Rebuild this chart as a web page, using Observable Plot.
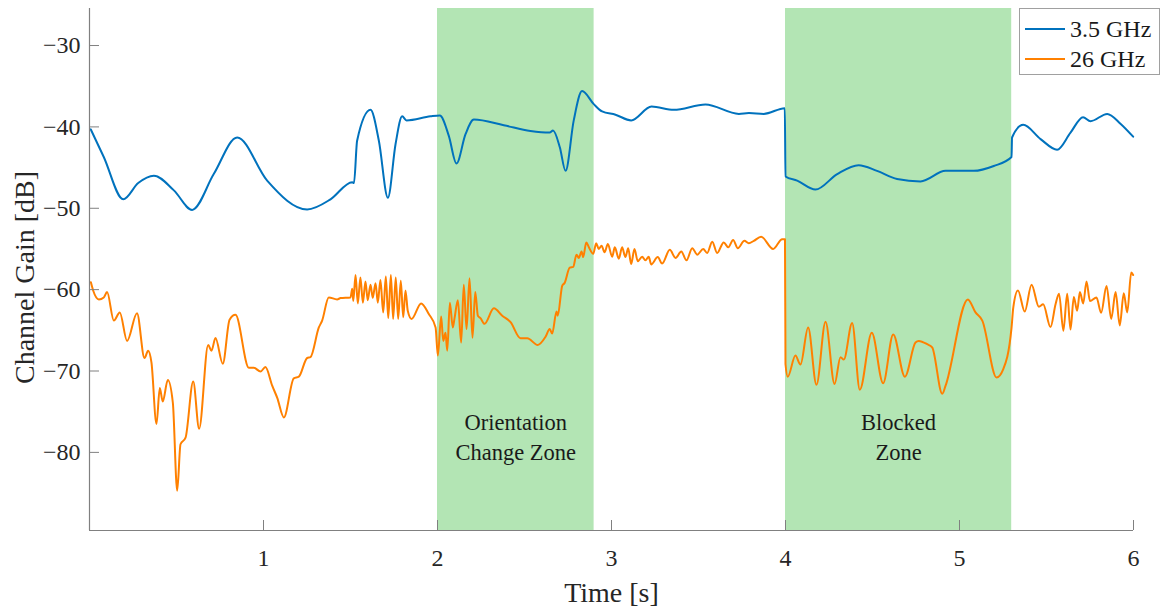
<!DOCTYPE html>
<html><head><meta charset="utf-8">
<script src="https://cdn.jsdelivr.net/npm/d3@7"></script>
<script src="https://cdn.jsdelivr.net/npm/@observablehq/plot@0.6"></script>
<style>
body{margin:0;background:#fff;}
#wrap{position:relative;width:1162px;height:610px;font-family:"Liberation Serif","Times New Roman",serif;}
#chart svg, #chart svg text, #chart svg tspan{font-family:"Liberation Serif","Times New Roman",serif !important;}
#legend{position:absolute;left:1019px;top:8px;width:141px;height:67px;border:1px solid #a0a0a0;background:#fff;box-sizing:border-box;font-size:24px;color:#1a1a1a;}
.li{position:absolute;left:5px;height:28px;display:flex;align-items:center;}
.li span.sw{display:inline-block;width:40px;height:2px;margin-right:5px;}
</style></head>
<body><div id="wrap"><div id="chart"></div>
<div id="legend"></div></div>
<script>
const seriesNames = ["3.5 GHz", "26 GHz"];
const seriesColors = ["#0072BD", "#FF8000"];
const xTicks = [1, 2, 3, 4, 5, 6];
const yTicks = [-80, -70, -60, -50, -40, -30];
const zoneStart = [2, 4];
const zoneEnd = [2.9, 5.3];
const zoneLabels = ["Orientation\nChange Zone", "Blocked\nZone"];

const blueT = [0.007,0.082,0.194,0.28,0.37,0.485,0.59,0.714,0.849,1.021,1.251,1.385,1.51,1.52,1.538,1.615,1.663,1.715,1.759,1.797,1.822,1.96,2.013,2.065,2.109,2.161,2.209,2.381,2.534,2.645,2.664,2.703,2.736,2.783,2.831,2.898,2.946,3.023,3.113,3.23,3.358,3.54,3.732,3.79,3.875,3.996,4.0,4.067,4.172,4.297,4.42,4.526,4.641,4.776,4.92,5.082,5.197,5.299,5.302,5.366,5.466,5.561,5.638,5.71,5.753,5.849,5.925,5.998];
const blueDB = [-40.3,-43.7,-48.9,-46.9,-46.0,-47.8,-50.2,-45.8,-41.3,-46.6,-50.15,-48.9,-46.8,-46.9,-41.7,-37.9,-41.7,-48.7,-42.1,-38.7,-39.2,-38.7,-38.6,-41.1,-44.5,-40.9,-39.1,-39.8,-40.5,-40.7,-40.45,-42.5,-45.4,-39.2,-35.6,-37.2,-38.1,-38.5,-39.2,-37.5,-37.9,-37.25,-38.4,-38.3,-38.4,-37.7,-46.1,-46.6,-47.7,-45.8,-44.7,-45.4,-46.4,-46.7,-45.4,-45.4,-44.8,-43.7,-41.3,-39.75,-41.5,-42.8,-40.7,-38.8,-39.3,-38.4,-39.6,-41.2];

const orangeT = [0.008,0.021,0.054,0.082,0.101,0.14,0.174,0.216,0.273,0.316,0.337,0.356,0.385,0.404,0.421,0.45,0.479,0.504,0.523,0.552,0.596,0.63,0.682,0.701,0.724,0.766,0.805,0.839,0.916,0.944,0.983,1.011,1.05,1.079,1.117,1.174,1.203,1.251,1.27,1.318,1.337,1.375,1.423,1.443,1.5,1.51,1.516,1.529,1.542,1.557,1.571,1.586,1.599,1.615,1.628,1.644,1.657,1.672,1.688,1.703,1.717,1.732,1.745,1.76,1.774,1.789,1.803,1.816,1.829,1.851,1.906,1.95,1.989,2.002,2.021,2.033,2.046,2.056,2.071,2.088,2.098,2.117,2.136,2.151,2.167,2.184,2.201,2.217,2.232,2.247,2.27,2.324,2.372,2.42,2.477,2.516,2.576,2.621,2.645,2.659,2.684,2.691,2.717,2.73,2.76,2.78,2.799,2.812,2.828,2.837,2.855,2.87,2.895,2.912,2.927,2.943,2.96,2.979,3.004,3.019,3.042,3.061,3.08,3.096,3.113,3.132,3.151,3.176,3.195,3.214,3.228,3.266,3.291,3.335,3.368,3.401,3.431,3.464,3.493,3.527,3.55,3.579,3.607,3.645,3.671,3.699,3.726,3.764,3.789,3.818,3.86,3.929,3.981,3.997,4.0,4.013,4.057,4.086,4.13,4.178,4.23,4.282,4.316,4.335,4.383,4.427,4.496,4.561,4.619,4.686,4.747,4.766,4.814,4.843,4.901,4.92,5.048,5.092,5.131,5.213,5.251,5.299,5.309,5.336,5.375,5.414,5.456,5.481,5.523,5.552,5.572,5.597,5.619,5.638,5.657,5.676,5.692,5.711,5.73,5.75,5.787,5.814,5.845,5.872,5.897,5.921,5.944,5.964,5.987,5.998];
const orangeDB = [-59.1,-60.1,-61.2,-60.96,-60.3,-63.8,-62.8,-66.3,-62.9,-68.4,-67.5,-68.95,-76.5,-72.1,-73.75,-71.1,-73.9,-84.7,-79.0,-78.2,-71.3,-77.1,-66.8,-67.5,-65.95,-69.1,-63.7,-63.1,-69.6,-69.6,-70.06,-69.5,-71.8,-73.3,-75.7,-70.9,-70.7,-68.4,-68.3,-64.65,-63.8,-60.96,-61.2,-61.04,-60.96,-59.9,-61.4,-58.2,-61.7,-58.5,-61.6,-59.0,-61.3,-59.4,-61.0,-59.2,-61.6,-58.8,-62.8,-58.4,-63.5,-58.2,-63.6,-58.5,-63.6,-58.9,-63.4,-60.1,-62.6,-63.6,-61.7,-63.0,-64.65,-68.1,-63.3,-66.3,-65.3,-67.5,-61.6,-64.65,-63.5,-61.3,-66.5,-59.4,-64.85,-58.6,-65.9,-60.3,-63.2,-63.5,-64.2,-62.3,-63.2,-64.0,-65.97,-65.97,-66.8,-65.8,-64.85,-65.4,-62.7,-63.2,-59.5,-59.2,-57.3,-57.2,-55.7,-56.1,-55.3,-56.0,-54.2,-54.8,-55.6,-54.3,-55.0,-54.6,-55.4,-54.4,-55.95,-54.8,-56.2,-54.8,-56.0,-54.9,-56.85,-55.0,-56.5,-55.95,-56.4,-55.95,-56.9,-56.0,-56.8,-55.1,-56.1,-55.3,-56.4,-54.9,-55.7,-55.0,-55.5,-54.1,-55.5,-54.2,-54.8,-53.9,-54.9,-54.0,-54.3,-54.0,-53.5,-55.0,-53.8,-53.8,-69.15,-70.7,-68.1,-69.2,-64.65,-71.7,-63.95,-71.6,-68.3,-68.6,-64.1,-72.3,-65.3,-71.5,-65.5,-70.7,-66.5,-66.3,-66.7,-67.1,-72.8,-71.8,-61.2,-62.8,-63.8,-70.8,-69.8,-64.7,-62.2,-60.1,-62.7,-59.4,-62.1,-61.8,-64.6,-61.8,-60.5,-65.05,-60.5,-64.9,-60.9,-62.6,-60.3,-61.7,-59.0,-61.4,-60.96,-62.85,-59.55,-63.6,-60.3,-64.4,-60.45,-62.8,-57.9,-58.2];

const blue = blueT.map((t, i) => ({t, v: blueDB[i]}));
const orange = orangeT.map((t, i) => ({t, v: orangeDB[i]}));
const zones = zoneStart.map((s, i) => ({x1: s, x2: zoneEnd[i], mid: (s + zoneEnd[i]) / 2, label: zoneLabels[i]}));

const yMin = -89.6, yMax = -25.45;
const font = "Liberation Serif";
const axisColor = "#808080";

const chart = Plot.plot({
  width: 1162, height: 610,
  marginLeft: 89, marginRight: 29, marginTop: 8, marginBottom: 80,
  style: {background: "#fff", color: "#262626"},
  x: {domain: [0, 6]},
  y: {domain: [yMin, yMax]},
  marks: [
    Plot.rect(zones, {x1: "x1", x2: "x2", fill: "#b3e5b4"}),
    Plot.text(zones, {x: "mid", y: -77.9, text: "label", fontSize: 22.5, lineHeight: 1.33, fill: "#1a1a1a", fontFamily: font}),
    Plot.line(blue, {x: "t", y: "v", stroke: seriesColors[0], strokeWidth: 2, curve: "monotone-x"}),
    Plot.line(orange, {x: "t", y: "v", stroke: seriesColors[1], strokeWidth: 2, curve: "monotone-x"}),
    Plot.ruleX([0], {stroke: axisColor, strokeWidth: 1.2}),
    Plot.ruleY([yMin], {stroke: axisColor, strokeWidth: 1.2}),
    Plot.tickY(yTicks, {y: d => d, stroke: axisColor, insetRight: 1034}),
    Plot.tickX(xTicks, {x: d => d, stroke: axisColor, insetTop: 512}),
    Plot.axisY(yTicks, {tickSize: 0, tickPadding: 9, fontSize: 24, label: null, fill: "#262626", fontFamily: font}),
    Plot.axisX(xTicks, {tickSize: 0, tickPadding: 18, fontSize: 24, label: null, fill: "#262626", fontFamily: font, tickFormat: d => String(d)}),
    Plot.text(["Time [s]"], {frameAnchor: "bottom", lineAnchor: "middle", dy: 63, fontSize: 28, fill: "#262626", fontFamily: font}),
    Plot.text(["Channel Gain [dB]"], {frameAnchor: "left", textAnchor: "middle", lineAnchor: "middle", dx: -64, dy: 8, rotate: -90, fontSize: 28, fill: "#262626", fontFamily: font})
  ]
});
document.getElementById("chart").appendChild(chart);

const legend = document.getElementById("legend");
seriesNames.forEach((n, i) => {
  const d = document.createElement("div");
  d.className = "li";
  d.style.top = (6 + i * 30) + "px";
  d.innerHTML = `<span class="sw" style="background:${seriesColors[i]}"></span><span>${n}</span>`;
  legend.appendChild(d);
});
</script></body></html>
